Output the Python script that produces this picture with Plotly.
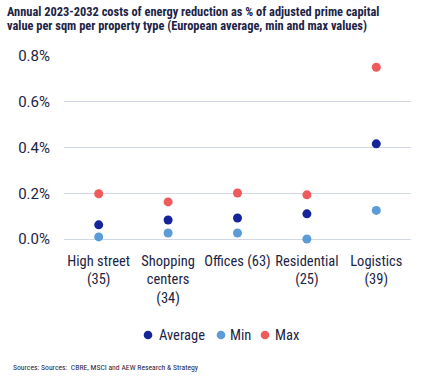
import plotly.graph_objects as go

categories = ["High street<br>(35)", "Shopping<br>centers<br>(34)", "Offices (63)", "Residential<br>(25)", "Logistics<br>(39)"]
series_names = ["Average", "Min", "Max"]
average = [0.062, 0.083, 0.092, 0.110, 0.416]
minimum = [0.009, 0.026, 0.026, 0.000, 0.125]
maximum = [0.198, 0.162, 0.201, 0.193, 0.751]
y_ticks = [0.0, 0.2, 0.4, 0.6, 0.8]
y_tick_labels = ["0.0%", "0.2%", "0.4%", "0.6%", "0.8%"]

COND = "Roboto Condensed, Arial Narrow, Roboto, sans-serif"
REG = "Roboto, sans-serif"
TXT = "#1c2444"
COLORS = ["#15249b", "#5b9bd8", "#ef5a5a"]

# plot area in pixels
L, R, T, B = 64, 15, 56, 137.7
W, H = 426, 377
PW, PH = W - L - R, H - T - B

def px(x):
    return (x - L) / PW

def py(y):
    return (H - B - y) / PH

fig = go.Figure()
for name, vals, col in zip(series_names, [average, minimum, maximum], COLORS):
    fig.add_trace(go.Scatter(x=categories, y=vals, mode="markers", name=name,
                             marker=dict(color=col, size=9), cliponaxis=False,
                             showlegend=False))

annotations = [
    dict(text="<b>Annual 2023-2032 costs of energy reduction as % of adjusted prime capital</b>",
         xref="paper", yref="paper", x=px(5), y=py(11), xanchor="left", yanchor="middle",
         align="left", showarrow=False, font=dict(size=12.4, color=TXT, family=COND)),
    dict(text="<b>value per sqm per property type (European average, min and max values)</b>",
         xref="paper", yref="paper", x=px(5), y=py(25), xanchor="left", yanchor="middle",
         align="left", showarrow=False, font=dict(size=12.4, color=TXT, family=COND)),
    dict(text="Sources: Sources:  CBRE, MSCI and AEW Research & Strategy",
         xref="paper", yref="paper", x=px(11), y=py(368), xanchor="left", yanchor="middle",
         showarrow=False, font=dict(size=7.7, color=TXT, family=COND)),
]

# legend (dot + label)
shapes = []
legend_pos = [(148, 158), (221, 229), (265, 274)]
for name, col, (dx, tx) in zip(series_names, COLORS, legend_pos):
    shapes.append(dict(type="circle", xref="paper", yref="paper",
                       xsizemode="pixel", ysizemode="pixel",
                       xanchor=px(dx), yanchor=py(335.5), x0=-4.3, x1=4.3, y0=-4.3, y1=4.3,
                       fillcolor=col, line=dict(width=0)))
    annotations.append(dict(text=name, xref="paper", yref="paper", x=px(tx - 1), y=py(335.5),
                            xanchor="left", yanchor="middle", showarrow=False,
                            font=dict(size=14.5, color=TXT, family=COND)))

fig.update_layout(
    width=W, height=H,
    margin=dict(l=L, r=R, t=T, b=B),
    paper_bgcolor="white", plot_bgcolor="white",
    font=dict(family=COND, color=TXT, size=14),
    showlegend=False,
    xaxis=dict(type="category", showgrid=False, showline=False, ticks="", tickangle=0,
               tickfont=dict(size=14.5, color=TXT, family=COND), range=[-0.5, 4.5],
               ticklabelstandoff=11),
    yaxis=dict(range=[0, 0.8], tickmode="array", tickvals=y_ticks, ticktext=y_tick_labels,
               showgrid=True, gridcolor="#d3d8e6", gridwidth=1, zeroline=True,
               zerolinecolor="#d3d8e6", zerolinewidth=1,
               tickfont=dict(size=15, color=TXT, family=REG), ticklabelstandoff=13),
    annotations=annotations,
    shapes=shapes,
)

fig.write_html("out.html", config={"displayModeBar": False},
               post_script="document.body.style.margin='0px';")
